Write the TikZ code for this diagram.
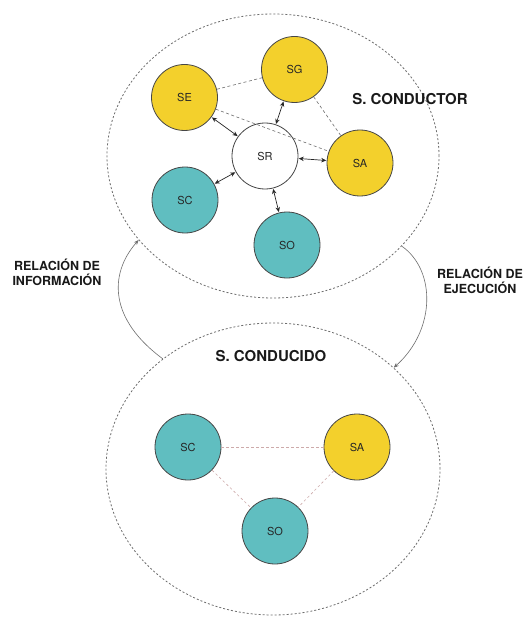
\documentclass[tikz,border=0pt]{standalone}
\usepackage{fontspec}
\setmainfont{TeX Gyre Heros}
\usetikzlibrary{shapes.geometric,arrows.meta}
\definecolor{amarillo}{RGB}{243,208,44}
\definecolor{turquesa}{RGB}{96,190,192}
\definecolor{borde}{RGB}{70,70,70}
\definecolor{gris}{RGB}{110,110,110}
\definecolor{rosado}{RGB}{205,170,170}
\begin{document}
\begin{tikzpicture}[x=1pt,y=-1pt,
  sub/.style={circle,draw=borde,line width=0.8pt,minimum size=66pt,inner sep=0pt,
    font=\fontsize{11}{13}\selectfont,text=black!85},
  amar/.style={sub,fill=amarillo},
  turq/.style={sub,fill=turquesa},
  blanco/.style={sub,fill=white},
  sistema/.style={ellipse,draw=gris,dash pattern=on 2pt off 2pt,line width=0.8pt,inner sep=0pt},
  enlace/.style={draw=gris,dash pattern=on 3pt off 2.5pt,line width=0.6pt},
  enlaceb/.style={draw=rosado,dash pattern=on 2.5pt off 2.5pt,line width=0.6pt},
  flecha/.style={<->,>={Stealth[length=5pt,width=4.5pt]},line width=0.7pt,draw=black!85},
  relacion/.style={->,>={Stealth[length=5pt,width=4pt]},draw=gris,line width=0.6pt},
  titulo/.style={font=\bfseries\fontsize{15}{17}\selectfont,text=black!90},
  etiqueta/.style={font=\bfseries\fontsize{12.5}{15}\selectfont,align=center,text=black!90}]
\useasboundingbox (0,0) rectangle (527,639);
\fill[white] (0,0) rectangle (527,639);

% the two systems
\node[sistema,minimum width=332pt,minimum height=284pt] (conductor) at (273,156) {};
\node[sistema,minimum width=334pt,minimum height=292pt] (conducido) at (273,469) {};

% guiding system
\node[amar] (SE) at (184.5,97.5) {SE};
\node[amar] (SG) at (294.5,69.5) {SG};
\node[blanco] (SR) at (265,156) {SR};
\node[amar] (SA) at (360,163) {SA};
\node[turq] (SC) at (185,200) {SC};
\node[turq] (SO) at (287,245) {SO};

\draw[enlace] (SE) -- (SG);
\draw[enlace] (SE) -- (SA);
\draw[enlace] (SG) -- (SA);
\foreach \n in {SE,SG,SA,SC,SO}
  \draw[flecha,shorten <=0.5pt,shorten >=0.5pt] (SR) -- (\n);

\node[titulo] (tconductor) at (410,99) {S. CONDUCTOR};

% guided system
\node[turq] (SCb) at (188,447) {SC};
\node[amar] (SAb) at (357,447) {SA};
\node[turq] (SOb) at (275,531) {SO};
\draw[enlaceb] (SCb) -- (SAb);
\draw[enlaceb] (SCb) -- (SOb);
\draw[enlaceb] (SAb) -- (SOb);

\node[titulo] (tconducido) at (271,356) {S. CONDUCIDO};

% relations between the systems
\draw[relacion] (conducido.135) .. controls (110,320) and (108,275) .. (conductor.212);
\draw[relacion] (conductor.325) .. controls (436,270) and (436,330) .. (conducido.40);

\node[etiqueta] (tinfo) at (57,272) {RELACIÓN DE\\INFORMACIÓN};
\node[etiqueta] (tejec) at (480,280) {RELACIÓN DE\\EJECUCIÓN};
\end{tikzpicture}
\end{document}
